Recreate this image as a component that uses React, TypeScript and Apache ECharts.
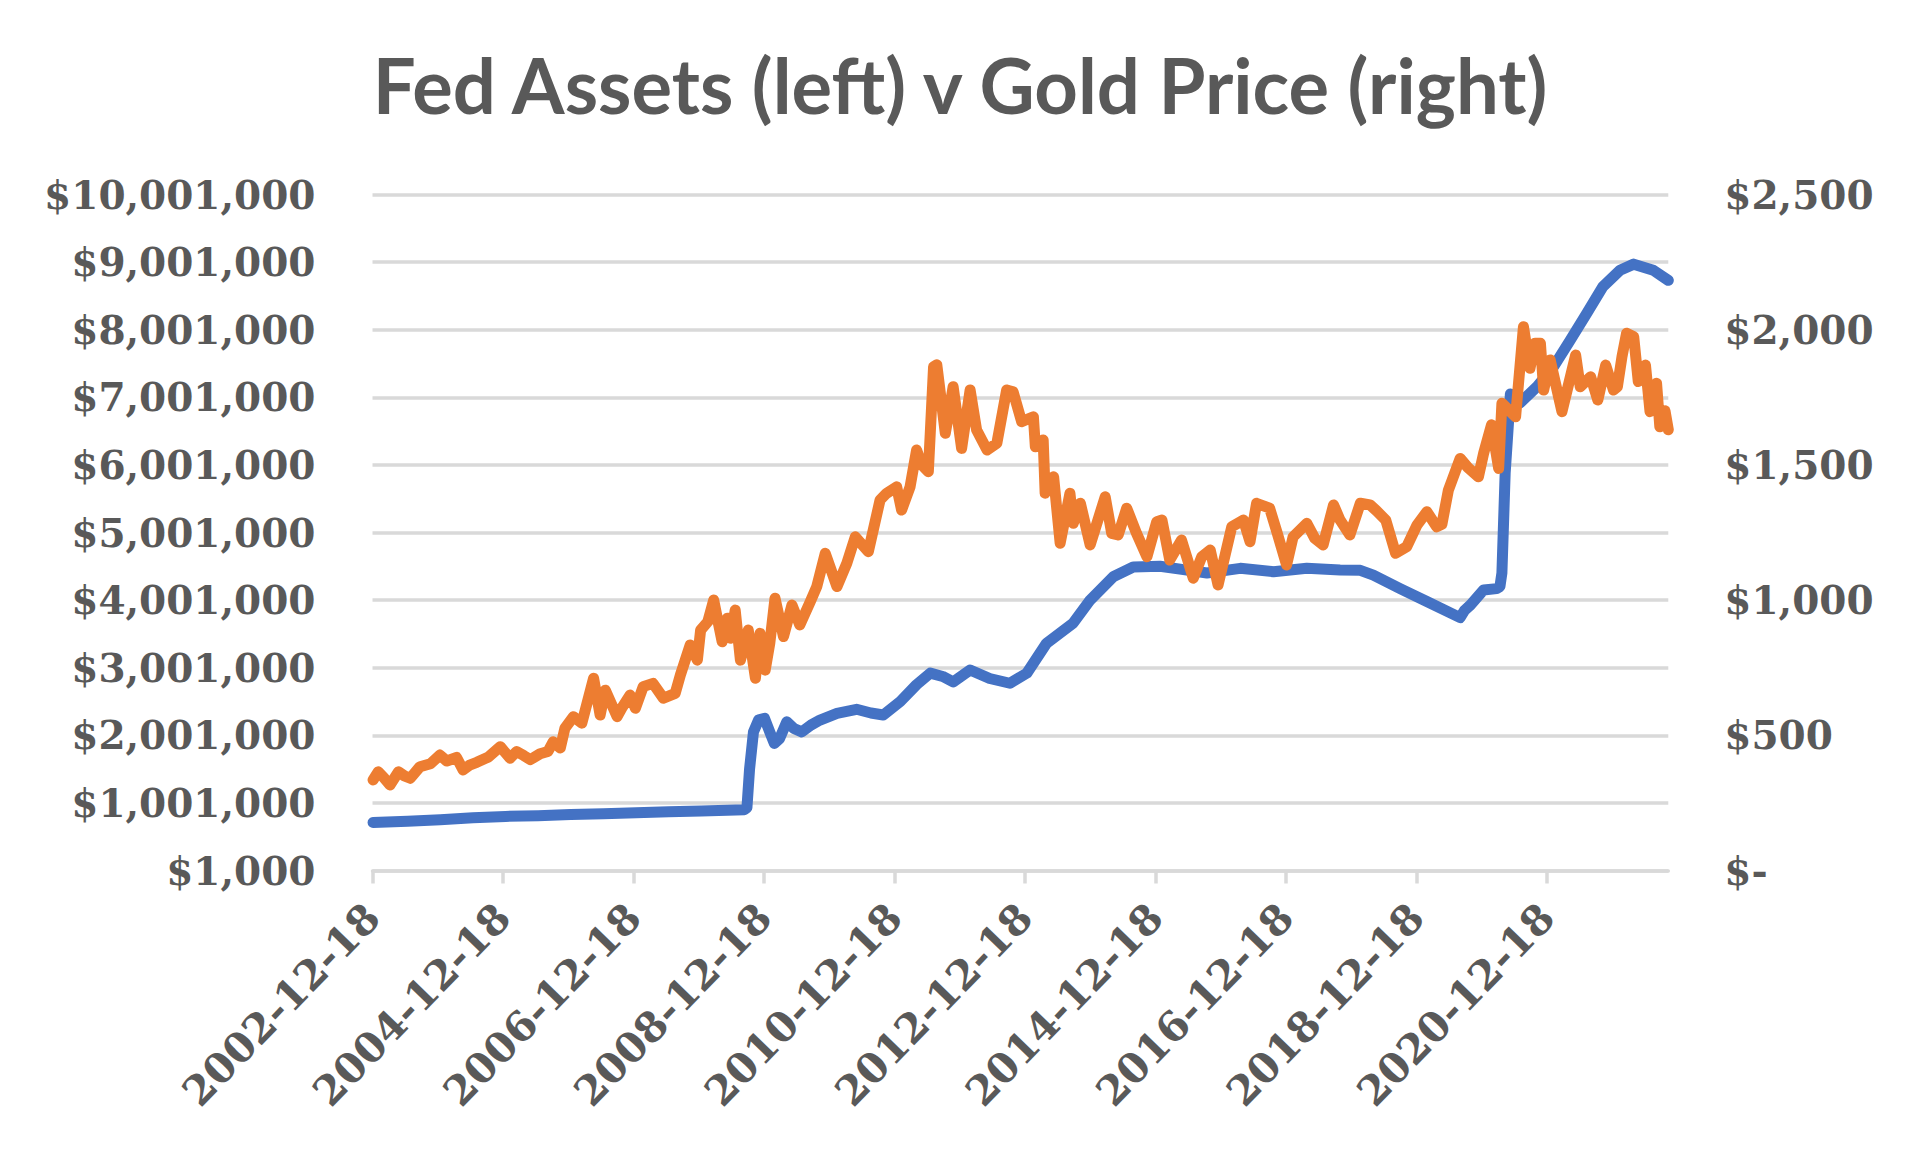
import * as echarts from 'echarts'
import React, { useEffect, useRef } from 'react'

// x axis starts at 2002-12-18, ticks every 2 years on the same day
const startYear = 2002.9616
const tickLabels = ['2002-12-18', '2004-12-18', '2006-12-18', '2008-12-18', '2010-12-18', '2012-12-18', '2014-12-18', '2016-12-18', '2018-12-18', '2020-12-18']
const endYear = 2022.82

// Fed total assets, $ millions
const fedYears = [
  2002.97, 2003.5, 2004.0, 2004.5, 2005.0, 2005.5, 2006.0, 2006.5, 2007.0, 2007.5, 2008.0, 2008.4, 2008.66, 2008.7,
  2008.74, 2008.8, 2008.88, 2008.97, 2009.05, 2009.12, 2009.2, 2009.31, 2009.42, 2009.54, 2009.68, 2009.82, 2010.08,
  2010.38, 2010.6, 2010.79, 2011.05, 2011.3, 2011.51, 2011.7, 2011.86, 2012.12, 2012.42, 2012.73, 2012.99, 2013.29,
  2013.7, 2013.96, 2014.32, 2014.62, 2015.03, 2015.39, 2015.75, 2016.26, 2016.77, 2017.28, 2017.79, 2018.1, 2018.3,
  2018.71, 2019.12, 2019.63, 2019.7, 2019.79, 2019.99, 2020.19, 2020.24, 2020.27, 2020.32, 2020.4, 2020.55, 2020.81,
  2021.06, 2021.32, 2021.57, 2021.82, 2022.08, 2022.29, 2022.59, 2022.82
]
const fedValues = [
  710000, 730000, 750000, 780000, 800000, 810000, 830000, 840000, 855000, 870000, 880000, 890000, 900000, 930000,
  1500000, 2050000, 2230000, 2250000, 2050000, 1880000, 1950000, 2200000, 2100000, 2050000, 2150000, 2226000, 2325000,
  2385000, 2330000, 2300000, 2500000, 2750000, 2920000, 2870000, 2790000, 2966000, 2840000, 2770000, 2920000, 3360000,
  3660000, 4000000, 4350000, 4490000, 4500000, 4450000, 4400000, 4470000, 4420000, 4470000, 4445000, 4440000, 4370000,
  4170000, 3980000, 3740000, 3850000, 3930000, 4150000, 4170000, 4200000, 4400000, 5880000, 7050000, 6920000, 7160000,
  7450000, 7850000, 8240000, 8640000, 8880000, 8970000, 8880000, 8730000
]

// gold price, $ per ounce
const goldYears = [
  2002.97, 2003.05, 2003.13, 2003.23, 2003.36, 2003.45, 2003.54, 2003.69, 2003.85, 2003.995, 2004.1, 2004.25, 2004.35,
  2004.45, 2004.56, 2004.74, 2004.92, 2005.07, 2005.17, 2005.28, 2005.38, 2005.53, 2005.65, 2005.73, 2005.84, 2005.91,
  2006.04, 2006.17, 2006.35, 2006.45, 2006.53, 2006.71, 2006.78, 2006.91, 2006.99, 2007.11, 2007.26, 2007.42, 2007.6,
  2007.68, 2007.83, 2007.94, 2007.99, 2008.1, 2008.19, 2008.32, 2008.4, 2008.45, 2008.52, 2008.6, 2008.72, 2008.83,
  2008.9, 2008.98, 2009.05, 2009.13, 2009.26, 2009.39, 2009.51, 2009.67, 2009.77, 2009.9, 2010.08, 2010.23, 2010.36,
  2010.56, 2010.74, 2010.84, 2010.995, 2011.07, 2011.2, 2011.3, 2011.38, 2011.48, 2011.56, 2011.61, 2011.74, 2011.8,
  2011.86, 2011.99, 2012.12, 2012.22, 2012.38, 2012.53, 2012.68, 2012.78, 2012.91, 2013.09, 2013.12, 2013.24, 2013.27,
  2013.4, 2013.5, 2013.65, 2013.7, 2013.81, 2013.96, 2014.19, 2014.29, 2014.39, 2014.52, 2014.67, 2014.83, 2014.98,
  2015.06, 2015.18, 2015.36, 2015.54, 2015.67, 2015.8, 2015.92, 2016.13, 2016.31, 2016.41, 2016.51, 2016.71, 2016.82,
  2016.97, 2017.07, 2017.28, 2017.4, 2017.53, 2017.69, 2017.79, 2017.94, 2018.1, 2018.25, 2018.35, 2018.49, 2018.64,
  2018.81, 2018.97, 2019.12, 2019.27, 2019.35, 2019.45, 2019.63, 2019.75, 2019.91, 2019.99, 2020.11, 2020.22, 2020.27,
  2020.48, 2020.6, 2020.7, 2020.78, 2020.86, 2020.91, 2021.01, 2021.19, 2021.4, 2021.47, 2021.63, 2021.74, 2021.86,
  2021.98, 2022.04, 2022.11, 2022.18, 2022.29, 2022.36, 2022.47, 2022.54, 2022.64, 2022.69, 2022.77, 2022.82
]
const goldValues = [
  335, 365, 345, 316, 365, 350, 341, 384, 395, 427, 405, 418, 372,
  390, 400, 420, 458, 415, 440, 425, 410, 432, 440, 476, 453, 526,
  569, 545, 711, 575, 667, 569, 600, 649, 600, 680, 692, 637, 655,
  723, 834, 778, 889, 920, 1000, 846, 933, 859, 963, 778, 889, 711,
  877, 741, 840, 1007, 865, 982, 908, 994, 1050, 1173, 1050, 1136, 1234,
  1179, 1370, 1395, 1419, 1333, 1419, 1555, 1500, 1475, 1863, 1870, 1617, 1700,
  1789, 1561, 1777, 1629, 1555, 1580, 1777, 1770, 1660, 1678, 1567, 1592, 1395,
  1456, 1210, 1395, 1284, 1358, 1204, 1382, 1247, 1241, 1340, 1247, 1160, 1290,
  1296, 1148, 1222, 1081, 1160, 1185, 1056, 1271, 1296, 1216, 1358, 1340, 1253,
  1130, 1234, 1284, 1229, 1204, 1352, 1296, 1241, 1358, 1352, 1330, 1296, 1173,
  1197, 1278, 1327, 1271, 1280, 1407, 1524, 1490, 1456, 1543, 1648, 1487, 1728,
  1678, 2011, 1857, 1950, 1950, 1777, 1888, 1697, 1906, 1789, 1826, 1740, 1869,
  1777, 1789, 1900, 1987, 1974, 1808, 1869, 1697, 1802, 1641, 1700, 1630
]

const textColor = '#595959'
const gridColor = '#D9D9D9'
const labelFont = { fontFamily: 'DejaVu Serif', fontWeight: 'bold' as const, fontSize: 39, color: textColor }

const pairs = (xs: number[], ys: number[]) => xs.map((x, i) => [x - startYear, ys[i]])

const App: React.FC = () => {
  const chartRef = useRef<HTMLDivElement>(null)

  useEffect(() => {
    const chart = echarts.init(chartRef.current!, null, { renderer: 'svg' })
    const tickValues = tickLabels.map((_, i) => i * 2)
    chart.setOption({
      animation: false,
      backgroundColor: '#ffffff',
      title: {
        text: 'Fed Assets (left) v Gold Price (right)',
        left: 'center',
        top: 41,
        textStyle: { fontFamily: 'Lato', fontWeight: 'bold', fontSize: 76, color: textColor }
      },
      grid: { left: 372.5, right: 251.7, top: 194.5, bottom: 278.5 },
      xAxis: {
        type: 'value',
        min: 0,
        max: endYear - startYear,
        interval: 2,
        axisLine: { show: true, lineStyle: { color: gridColor, width: 3.5 } },
        axisTick: { show: true, length: 13, lineStyle: { color: gridColor, width: 3.5 }, customValues: tickValues },
        splitLine: { show: false },
        axisLabel: {
          ...labelFont,
          fontSize: 41,
          rotate: 46,
          margin: 40,
          customValues: tickValues,
          formatter: (v: number) => tickLabels[Math.round(v / 2)] ?? ''
        }
      },
      yAxis: [
        {
          type: 'value',
          min: 0,
          max: 10000000,
          interval: 1000000,
          axisLine: { show: false },
          axisTick: { show: false },
          splitLine: { show: true, lineStyle: { color: gridColor, width: 3.5 } },
          axisLabel: {
            ...labelFont,
            margin: 57,
            formatter: (v: number) => '$' + (v + 1000).toLocaleString('en-US')
          }
        },
        {
          type: 'value',
          min: 0,
          max: 2500,
          interval: 500,
          position: 'right',
          axisLine: { show: false },
          axisTick: { show: false },
          splitLine: { show: false },
          axisLabel: {
            ...labelFont,
            margin: 56,
            formatter: (v: number) => (v === 0 ? '$-' : '$' + v.toLocaleString('en-US'))
          }
        }
      ],
      series: [
        {
          name: 'Fed Assets',
          type: 'line',
          yAxisIndex: 0,
          data: pairs(fedYears, fedValues),
          showSymbol: false,
          lineStyle: { color: '#4472C4', width: 11, join: 'round', cap: 'round' }
        },
        {
          name: 'Gold Price',
          type: 'line',
          yAxisIndex: 1,
          data: pairs(goldYears, goldValues),
          showSymbol: false,
          lineStyle: { color: '#ED7D31', width: 11, join: 'round', cap: 'round' }
        }
      ]
    })
    return () => {
      chart.dispose()
    }
  }, [])

  return (
    <div
      ref={chartRef}
      style={{ position: 'absolute', left: 0, top: 0, width: '1920px', height: '1149px', background: '#fff' }}
    />
  )
}

export default App
